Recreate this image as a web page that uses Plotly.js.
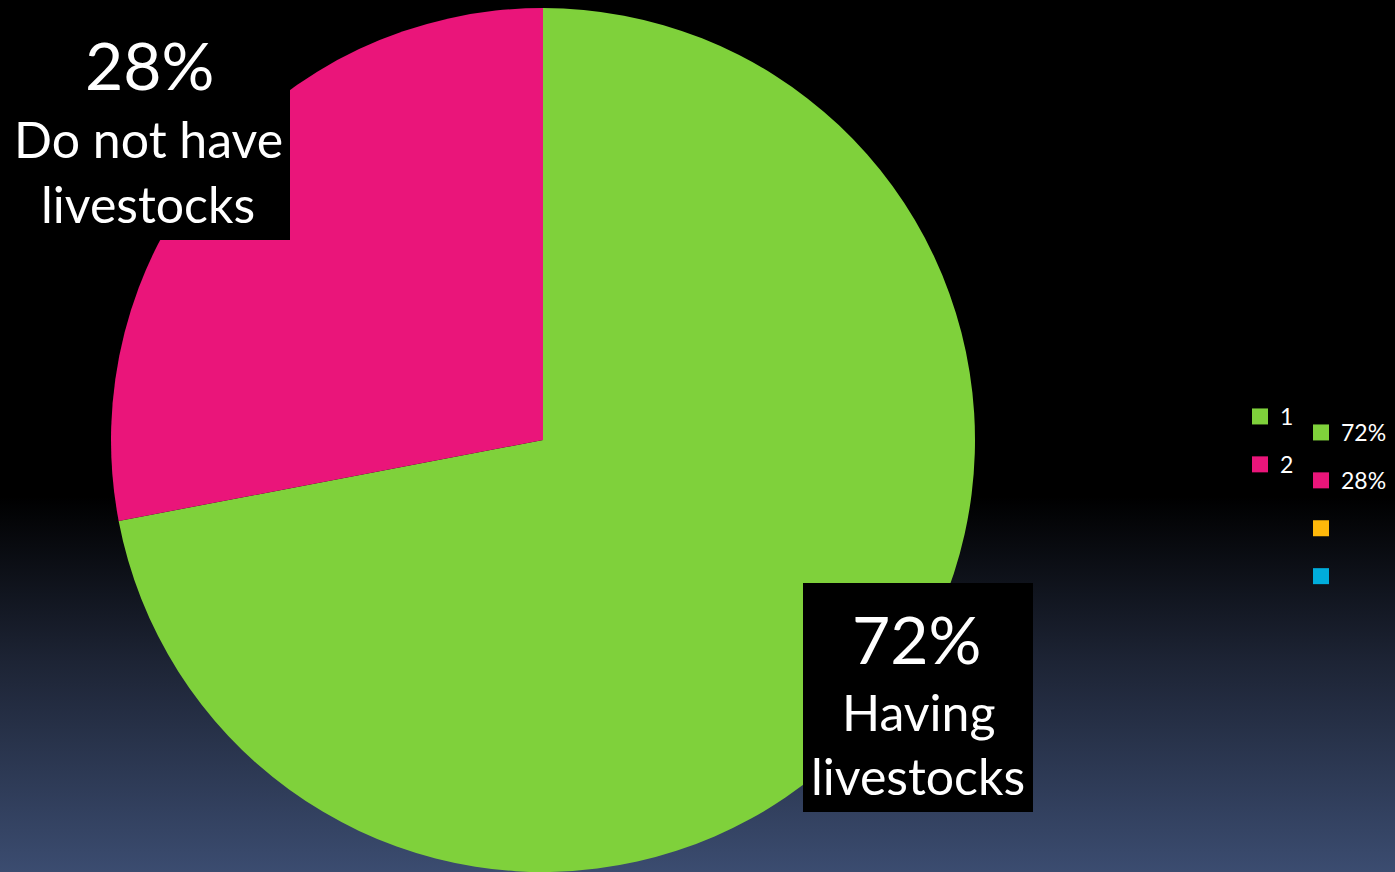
<!DOCTYPE html>
<html>
<head>
<meta charset="utf-8">
<script src="https://cdn.plot.ly/plotly-3.0.1.min.js"></script>
<style>
  html, body { margin: 0; padding: 0; width: 1395px; height: 872px; overflow: hidden;
    background: linear-gradient(to bottom, #000000 0%, #000000 57%, #1d2435 76%, #3b4c70 100%); }
  #chart { width: 1395px; height: 872px; }
</style>
</head>
<body>
<div id="chart"></div>
<script>
// ---- data ----
const categories = ["Having livestocks", "Do not have livestocks"];
const values = [72, 28];
const sliceColors = ["#7FD13B", "#EA157A"];
const legendNames1 = ["1", "2"];
const legendColors1 = ["#7FD13B", "#EA157A"];
const legendNames2 = ["72%", "28%", " ", "  "];
const legendColors2 = ["#7FD13B", "#EA157A", "#FEB80A", "#00ADDC"];
const labelLines = [["Having", "livestocks"], ["Do not have", "livestocks"]];

const W = 1395, H = 872;
const cx = 543, cy = 440, r = 432;

const traces = [{
  type: "pie",
  labels: categories,
  values: values,
  marker: { colors: sliceColors, line: { width: 0 } },
  sort: false,
  direction: "clockwise",
  rotation: 0,
  textinfo: "none",
  hoverinfo: "label+percent",
  showlegend: false,
  domain: { x: [(cx - r) / W, (cx + r) / W], y: [(H - cy - r) / H, (H - cy + r) / H] }
}];

legendNames1.forEach((n, i) => traces.push({
  type: "scatter", mode: "markers", x: [null], y: [null], name: n,
  legend: "legend", legendgroup: "a" + i,
  marker: { symbol: "square", size: 16, color: legendColors1[i] }
}));
legendNames2.forEach((n, i) => traces.push({
  type: "scatter", mode: "markers", x: [null], y: [null], name: n,
  legend: "legend2", legendgroup: "b" + i,
  marker: { symbol: "square", size: 16, color: legendColors2[i] }
}));

const font = "Lato, 'Open Sans', sans-serif";
const px = v => v / W, py = v => 1 - v / H;

function ann(text, x, y, size) {
  return { text: text, x: px(x), y: py(y), xref: "paper", yref: "paper",
    xanchor: "center", yanchor: "middle", showarrow: false,
    font: { family: font, size: size, color: "#ffffff" } };
}

const annotations = [
  ann(values[1] + "%", 149, 64, 66),
  ann(labelLines[1][0], 148, 139, 50),
  ann(labelLines[1][1], 148, 204, 50),
  ann(values[0] + "%", 916, 638, 66),
  ann(labelLines[0][0], 918, 712, 50),
  ann(labelLines[0][1], 918, 776, 50)
];

const shapes = [
  { type: "rect", xref: "paper", yref: "paper", x0: px(0), x1: px(290), y0: py(240), y1: py(0),
    fillcolor: "#000000", line: { width: 0 }, layer: "above" },
  { type: "rect", xref: "paper", yref: "paper", x0: px(803), x1: px(1033), y0: py(812), y1: py(583),
    fillcolor: "#000000", line: { width: 0 }, layer: "above" }
];

const legendFont = { family: font, size: 23, color: "#ffffff" };
const layout = {
  width: W, height: H,
  margin: { l: 0, r: 0, t: 0, b: 0 },
  paper_bgcolor: "rgba(0,0,0,0)",
  plot_bgcolor: "rgba(0,0,0,0)",
  xaxis: { visible: false, domain: [0.9, 0.91] },
  yaxis: { visible: false },
  shapes: shapes,
  annotations: annotations,
  legend: { x: px(1240), y: py(395), xanchor: "left", yanchor: "top",
    bgcolor: "rgba(0,0,0,0)", font: legendFont, tracegroupgap: 15, itemclick: false },
  legend2: { x: px(1301), y: py(411), xanchor: "left", yanchor: "top",
    bgcolor: "rgba(0,0,0,0)", font: legendFont, tracegroupgap: 15, itemclick: false },
  hovermode: "closest"
};

Plotly.newPlot("chart", traces, layout, { displayModeBar: false });
</script>
</body>
</html>
